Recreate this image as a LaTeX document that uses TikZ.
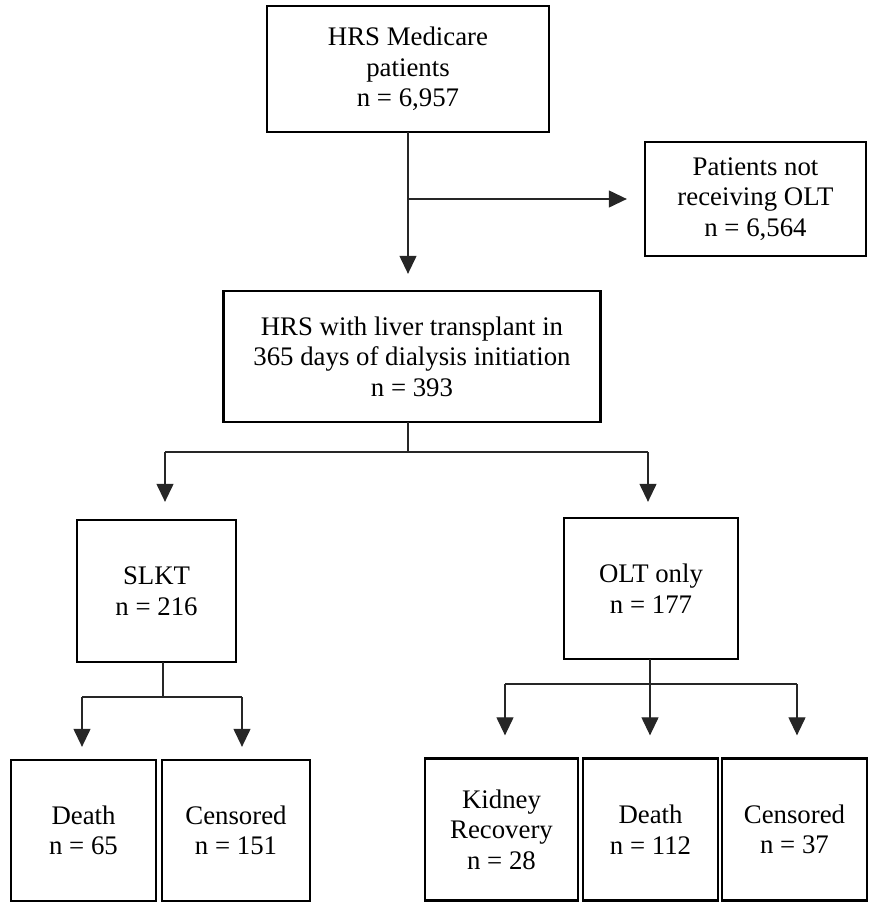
\documentclass[tikz,border=0pt]{standalone}
\usepackage{fontspec}
\setmainfont{Liberation Serif}
\usetikzlibrary{arrows.meta,calc}
\tikzset{
  box/.style={draw=black, line width=2.3pt, align=center, inner sep=0pt,
    font=\fontsize{26.8}{30.5}\selectfont},
  conn/.style={draw=black!85, line width=1.2pt},
  arr/.style={conn, -{Triangle[length=18pt,width=17pt]}},
}
\begin{document}
\begin{tikzpicture}[x=1pt,y=-1pt]
\useasboundingbox (0,0) rectangle (870,903);
% boxes
\node[box, minimum width=282pt, minimum height=126pt] (top) at (408,69) {HRS Medicare\\patients\\n = 6,957};
\node[box, minimum width=221pt, minimum height=114pt] (right) at (755.5,199) {Patients not\\receiving OLT\\n = 6,564};
\node[box, minimum width=377pt, minimum height=131pt] (mid) at (412,356.5) {HRS with liver transplant in\\365 days of dialysis initiation\\n = 393};
\node[box, minimum width=159pt, minimum height=142pt] (slkt) at (156.5,591) {SLKT\\n = 216};
\node[box, minimum width=174pt, minimum height=141pt] (olt) at (651,588.5) {OLT only\\n = 177};
\node[box, minimum width=145pt, minimum height=141pt] (d1) at (83.5,830.5) {Death\\n = 65};
\node[box, minimum width=148pt, minimum height=141pt] (c1) at (236,830.5) {Censored\\n = 151};
\node[box, minimum width=153pt, minimum height=142pt] (kr) at (501.5,829.5) {Kidney\\Recovery\\n = 28};
\node[box, minimum width=135pt, minimum height=142pt] (d2) at (650.5,829.5) {Death\\n = 112};
\node[box, minimum width=145pt, minimum height=142pt] (c2) at (794.5,829.5) {Censored\\n = 37};
% junction coordinates
\coordinate (t0) at (408,132);
\coordinate (j1) at (408,199);
\coordinate (m0) at (408,422);
\coordinate (m1) at (408,452);
\coordinate (mL) at (165,452);
\coordinate (mR) at (648,452);
\coordinate (s0) at (163,662);
\coordinate (s1) at (163,697);
\coordinate (sL) at (82,697);
\coordinate (sR) at (242,697);
\coordinate (o0) at (650,659);
\coordinate (o1) at (650,684);
\coordinate (oL) at (505,684);
\coordinate (oR) at (797,684);
% connectors
\draw[arr, shorten >=16pt] (t0) -- (t0 |- mid.north);
\draw[arr, shorten >=17pt] (j1) -- (j1 -| right.west);
\draw[conn] (m0) -- (m1);
\draw[conn] (mL) -- (mR);
\draw[arr, shorten >=17pt] (mL) -- (mL |- slkt.north);
\draw[arr, shorten >=15pt] (mR) -- (mR |- olt.north);
\draw[conn] (s0) -- (s1);
\draw[conn] (sL) -- (sR);
\draw[arr, shorten >=12pt] (sL) -- (sL |- d1.north);
\draw[arr, shorten >=12pt] (sR) -- (sR |- c1.north);
\draw[conn] (oL) -- (oR);
\draw[arr, shorten >=22pt] (o0) -- (o0 |- d2.north);
\draw[arr, shorten >=22pt] (oL) -- (oL |- kr.north);
\draw[arr, shorten >=22pt] (oR) -- (oR |- c2.north);
\end{tikzpicture}
\end{document}
